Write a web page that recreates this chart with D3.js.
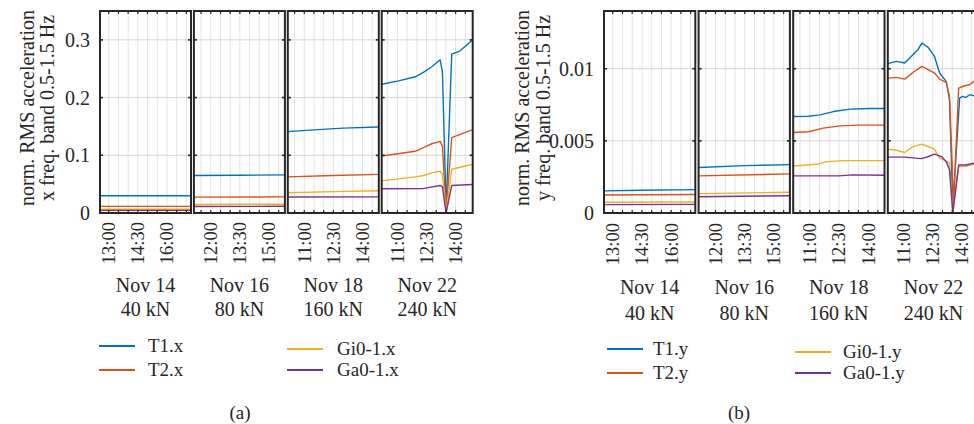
<!DOCTYPE html>
<html>
<head>
<meta charset="utf-8">
<script src="https://cdn.jsdelivr.net/npm/d3@7"></script>
<style>
  body { margin: 0; background: #fff; }
</style>
</head>
<body>
<svg id="fig" width="974" height="424"></svg>
<script>
// Measurement days, each drawn in its own panel
const days = ["Nov 14", "Nov 16", "Nov 18", "Nov 22"];
const loads = ["40 kN", "80 kN", "160 kN", "240 kN"];
// Start hour of each panel's time window, and the common window length (h)
const panelStart = [12.55, 11.13, 10.15, 10.19];
const panelSpan = 4.69;
// Labelled time ticks per panel (hours)
const timeTicks = [[13, 14.5, 16], [12, 13.5, 15], [11, 12.5, 14], [11, 12.5, 14]];

const seriesColors = ["#0072BD", "#D95319", "#EDB120", "#7E2F8E"];

// Value axis ticks
const xDirTicks = [0, 0.1, 0.2, 0.3];
const xDirTickLabels = ["0", "0.1", "0.2", "0.3"];
const yDirTicks = [0, 0.005, 0.01];
const yDirTickLabels = ["0", "0.005", "0.01"];

// x-direction normalised RMS acceleration, per panel: [hour, value]
const T1x = [
  [[12.55, 0.030], [14.5, 0.030], [17.24, 0.030]],
  [[11.13, 0.065], [13.5, 0.0655], [15.82, 0.066]],
  [[10.15, 0.141], [11.5, 0.144], [13.0, 0.147], [14.84, 0.149]],
  [[10.19, 0.223], [11.06, 0.229], [11.92, 0.236], [12.34, 0.2436], [12.77, 0.2534], [13.2, 0.2655],
   [13.32, 0.244], [13.51, 0.006], [13.8, 0.2753], [14.23, 0.281], [14.88, 0.300]]
];
const T2x = [
  [[12.55, 0.0115], [17.24, 0.0115]],
  [[11.13, 0.0275], [15.82, 0.028]],
  [[10.15, 0.0626], [12.5, 0.065], [14.84, 0.067]],
  [[10.19, 0.0988], [11.92, 0.1069], [12.34, 0.1133], [12.77, 0.120], [13.2, 0.1241], [13.32, 0.1155],
   [13.51, 0.004], [13.8, 0.1305], [14.88, 0.1443]]
];
const Gix = [
  [[12.55, 0.0065], [17.24, 0.0065]],
  [[11.13, 0.0148], [15.82, 0.0152]],
  [[10.15, 0.035], [12.5, 0.037], [14.84, 0.0385]],
  [[10.19, 0.0557], [11.92, 0.0626], [12.34, 0.065], [12.77, 0.0695], [13.2, 0.0724], [13.32, 0.0672],
   [13.51, 0.002], [13.8, 0.0759], [14.88, 0.0845]]
];
const Gax = [
  [[12.55, 0.0045], [17.24, 0.0045]],
  [[11.13, 0.0113], [15.82, 0.0116]],
  [[10.15, 0.0276], [14.84, 0.028]],
  [[10.19, 0.0419], [12.3, 0.0423], [13.2, 0.0477], [13.32, 0.0454], [13.51, 0.0], [13.8, 0.0477], [14.88, 0.0495]]
];

// y-direction normalised RMS acceleration, per panel: [hour, value]
const T1y = [
  [[12.55, 0.00153], [14.5, 0.00158], [17.24, 0.00162]],
  [[11.13, 0.00315], [13.5, 0.00328], [15.82, 0.00335]],
  [[10.15, 0.00669], [10.93, 0.00671], [11.53, 0.0068], [12.22, 0.00703], [13.07, 0.0072], [14.1, 0.00724], [14.84, 0.00724]],
  [[10.2, 0.01035], [10.63, 0.01051], [11.06, 0.0104], [11.48, 0.01097], [11.74, 0.01132], [11.94, 0.01178],
   [12.25, 0.0115], [12.59, 0.01085], [12.85, 0.0097], [13.19, 0.00912], [13.36, 0.00785], [13.53, 0.0004],
   [13.88, 0.00797], [14.05, 0.00808], [14.2, 0.0080], [14.39, 0.0082], [14.61, 0.00813]]
];
const T2y = [
  [[12.55, 0.00125], [17.24, 0.00128]],
  [[11.13, 0.00257], [15.82, 0.00271]],
  [[10.15, 0.00558], [10.93, 0.00563], [11.69, 0.00588], [12.55, 0.00604], [13.5, 0.00609], [14.84, 0.00609]],
  [[10.2, 0.00935], [10.63, 0.0094], [11.06, 0.00928], [11.48, 0.00974], [11.94, 0.01016], [12.34, 0.00988],
   [12.59, 0.0097], [12.85, 0.00928], [13.19, 0.00905], [13.36, 0.00808], [13.57, 0.0007], [13.83, 0.00866],
   [14.13, 0.00882], [14.39, 0.00889], [14.61, 0.00912]]
];
const Giy = [
  [[12.55, 0.00074], [17.24, 0.00076]],
  [[11.13, 0.00134], [15.82, 0.00144]],
  [[10.15, 0.00326], [10.85, 0.00333], [11.45, 0.0034], [11.88, 0.00356], [12.73, 0.00363], [14.84, 0.00363]],
  [[10.2, 0.00442], [10.63, 0.00435], [11.06, 0.00419], [11.48, 0.0046], [11.94, 0.00477], [12.25, 0.00461],
   [12.59, 0.00442], [12.85, 0.0038], [13.19, 0.00361], [13.36, 0.00345], [13.53, 0.0001], [13.83, 0.00322],
   [14.2, 0.00324], [14.61, 0.0034]]
];
const Gay = [
  [[12.55, 0.00058], [17.24, 0.0006]],
  [[11.13, 0.00113], [15.82, 0.0012]],
  [[10.15, 0.00257], [12.5, 0.00257], [13.2, 0.00264], [14.84, 0.00262]],
  [[10.2, 0.00387], [11.06, 0.00387], [11.9, 0.00377], [12.25, 0.0039], [12.59, 0.00408], [12.94, 0.00391],
   [13.19, 0.00356], [13.36, 0.00299], [13.53, 0.00001], [13.83, 0.00333], [14.2, 0.00333], [14.61, 0.00345]]
];

const ink = "#262626";
const serif = "Liberation Serif, DejaVu Serif, serif";
const svg = d3.select("#fig").attr("font-family", serif);

function hourLabel(h) {
  const hh = Math.floor(h), mm = Math.round((h - hh) * 60);
  return hh + ":" + String(mm).padStart(2, "0");
}

function drawChart(cfg) {
  const g = svg.append("g").attr("font-family", serif);
  const y = d3.scaleLinear().domain(cfg.yDomain).range([213, 11]);

  // value tick labels
  g.selectAll("text.ytl").data(cfg.yTicks).join("text")
    .attr("x", cfg.left - 10).attr("y", d => y(d)).attr("dy", "0.35em")
    .attr("text-anchor", "end").attr("font-size", 20).attr("fill", ink)
    .text((d, i) => cfg.yTickLabels[i]);

  // axis title (two lines)
  cfg.titleLines.forEach((line, i) => {
    g.append("text")
      .attr("transform", `translate(${cfg.titleX[i]},108) rotate(-90)`)
      .attr("dy", "0.35em").attr("text-anchor", "middle")
      .attr("font-size", 20).attr("fill", ink).text(line);
  });

  days.forEach((day, p) => {
    const x0 = cfg.left + p * cfg.step, x1 = x0 + cfg.width;
    const x = d3.scaleLinear().domain([panelStart[p], panelStart[p] + panelSpan]).range([x0, x1]);
    const halfHours = d3.range(Math.ceil(panelStart[p] * 2) / 2, panelStart[p] + panelSpan, 0.5);
    const pg = g.append("g");
    const clipId = `clip-${cfg.id}-${p}`;
    svg.append("clipPath").attr("id", clipId).append("rect")
      .attr("x", x0).attr("y", 11).attr("width", cfg.width).attr("height", 202);

    // grid
    pg.selectAll("line.vg").data(halfHours).join("line")
      .attr("x1", d => x(d)).attr("x2", d => x(d)).attr("y1", 11).attr("y2", 213)
      .attr("stroke", "#e3e3e3").attr("stroke-width", 1);
    pg.selectAll("line.hg").data(cfg.yTicks.slice(1)).join("line")
      .attr("x1", x0).attr("x2", x1).attr("y1", d => y(d)).attr("y2", d => y(d))
      .attr("stroke", "#d6d6d6").attr("stroke-width", 1);

    // series
    const line = d3.line().x(d => x(d[0])).y(d => y(d[1]));
    cfg.series.forEach((s, k) => {
      pg.append("path").datum(s[p]).attr("d", line)
        .attr("fill", "none").attr("stroke", seriesColors[k])
        .attr("stroke-width", 1.4).attr("stroke-linejoin", "round")
        .attr("clip-path", `url(#${clipId})`);
    });

    // inward ticks: time on top/bottom, value on left/right
    pg.selectAll("line.tt").data(halfHours).join("line")
      .attr("x1", d => x(d)).attr("x2", d => x(d)).attr("y1", 11).attr("y2", 14)
      .attr("stroke", ink).attr("stroke-width", 1.2);
    pg.selectAll("line.tb").data(halfHours).join("line")
      .attr("x1", d => x(d)).attr("x2", d => x(d)).attr("y1", 213).attr("y2", 210)
      .attr("stroke", ink).attr("stroke-width", 1.2);
    pg.selectAll("line.tl").data(cfg.yTicks).join("line")
      .attr("x1", x0).attr("x2", x0 + 3).attr("y1", d => y(d)).attr("y2", d => y(d))
      .attr("stroke", ink).attr("stroke-width", 1.6);
    pg.selectAll("line.tr").data(cfg.yTicks).join("line")
      .attr("x1", x1).attr("x2", x1 - 3).attr("y1", d => y(d)).attr("y2", d => y(d))
      .attr("stroke", ink).attr("stroke-width", 1.6);

    // frame
    pg.append("rect").attr("x", x0).attr("y", 11).attr("width", cfg.width).attr("height", 202)
      .attr("fill", "none").attr("stroke", ink).attr("stroke-width", 2);

    // time labels
    pg.selectAll("text.tl").data(timeTicks[p]).join("text")
      .attr("transform", d => `translate(${x(d)},${cfg.timeLabelY}) rotate(-90)`)
      .attr("dy", "0.35em").attr("text-anchor", "end")
      .attr("font-size", 18.5).attr("fill", ink).text(hourLabel);

    // day and load
    const cx = (x0 + x1) / 2;
    pg.append("text").attr("x", cx).attr("y", cfg.dayY).attr("text-anchor", "middle")
      .attr("font-size", 20).attr("fill", ink).text(day);
    pg.append("text").attr("x", cx).attr("y", cfg.loadY).attr("text-anchor", "middle")
      .attr("font-size", 20).attr("fill", ink).text(loads[p]);
  });

  // legend
  cfg.legend.forEach((it, k) => {
    g.append("line").attr("x1", it.x).attr("x2", it.x + 36).attr("y1", it.y).attr("y2", it.y)
      .attr("stroke", seriesColors[k]).attr("stroke-width", 2);
    g.append("text").attr("x", it.tx).attr("y", it.y).attr("dy", "0.33em")
      .attr("font-size", 19).attr("fill", ink).text(cfg.names[k]);
  });

  // panel caption
  g.append("text").attr("x", cfg.captionX).attr("y", 419).attr("text-anchor", "middle")
    .attr("font-size", 19).attr("fill", ink).text(cfg.caption);
}

drawChart({
  id: "a", left: 100, step: 93.9, width: 91,
  yDomain: [0, 0.35], yTicks: xDirTicks, yTickLabels: xDirTickLabels,
  titleLines: ["norm. RMS acceleration", "x freq. band 0.5-1.5 Hz"], titleX: [27, 47],
  series: [T1x, T2x, Gix, Gax], names: ["T1.x", "T2.x", "Gi0-1.x", "Ga0-1.x"],
  timeLabelY: 222, dayY: 291.5, loadY: 315.5,
  legend: [{x: 99, y: 346, tx: 148}, {x: 99, y: 370, tx: 148}, {x: 287, y: 349, tx: 337}, {x: 287, y: 370, tx: 337}],
  caption: "(a)", captionX: 240
});

drawChart({
  id: "b", left: 604, step: 94.6, width: 91.3,
  yDomain: [0, 0.014], yTicks: yDirTicks, yTickLabels: yDirTickLabels,
  titleLines: ["norm. RMS acceleration", "y freq. band 0.5-1.5 Hz"], titleX: [522, 543],
  series: [T1y, T2y, Giy, Gay], names: ["T1.y", "T2.y", "Gi0-1.y", "Ga0-1.y"],
  timeLabelY: 223, dayY: 294, loadY: 320,
  legend: [{x: 607, y: 349, tx: 653}, {x: 607, y: 373, tx: 653}, {x: 795, y: 352, tx: 843}, {x: 795, y: 373, tx: 843}],
  caption: "(b)", captionX: 739
});
</script>
</body>
</html>
